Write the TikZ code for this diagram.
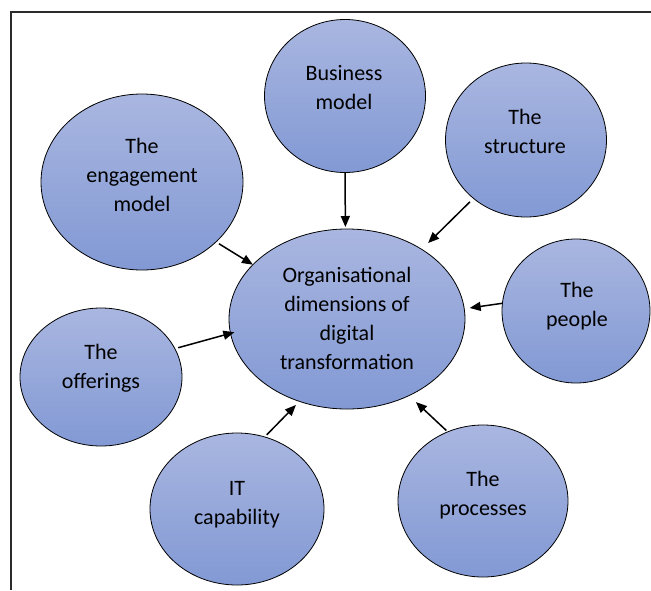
\documentclass[tikz,border=0pt]{standalone}
\usepackage{fontspec}
\setmainfont{Carlito}
\usetikzlibrary{shapes.geometric,arrows.meta}
\definecolor{bubbleTop}{HTML}{A9B6E0}
\definecolor{bubbleBot}{HTML}{8299D4}
\definecolor{frameLine}{HTML}{2B2B2B}
\begin{document}
\begin{tikzpicture}[x=1pt,y=-1pt,
  dim/.style={ellipse, draw=black, line width=0.8pt, top color=bubbleTop,
    bottom color=bubbleBot, inner sep=0pt, outer sep=0pt},
  lbl/.style={align=center, inner sep=0pt, text=black,
    font=\fontsize{22}{29}\selectfont},
  link/.style={-{Triangle[length=11pt,width=9pt]}, line width=1.5pt},
  frame/.style={draw=frameLine, line width=2.8pt}]
\useasboundingbox (0,0) rectangle (651,590);
\draw[frame] (11,590) -- (11,12) -- (651,12);

% bubbles
\node[dim, minimum width=161pt, minimum height=153pt] (bm)   at (345,96)  {};
\node[dim, minimum width=161pt, minimum height=154pt] (st)   at (526,140) {};
\node[dim, minimum width=202pt, minimum height=176pt] (eng)  at (142,182) {};
\node[dim, minimum width=236pt, minimum height=180pt] (ctr)  at (347,319) {};
\node[dim, minimum width=148pt, minimum height=144pt] (ppl)  at (576,311) {};
\node[dim, minimum width=162pt, minimum height=138pt] (off)  at (101,377) {};
\node[dim, minimum width=174pt, minimum height=152pt] (it)   at (237,509) {};
\node[dim, minimum width=170pt, minimum height=152pt] (proc) at (483,501) {};

% captions
\node[lbl] (bm-t)   at (344,89.5)  {\strut Business\\\strut model};
\node[lbl] (st-t)   at (525,133.5) {\strut The\\\strut structure};
\node[lbl] (eng-t)  at (142,177)   {\strut The\\\strut engagement\\\strut model};
\node[lbl] (ctr-t)  at (347,320)   {\strut Organisational\\\strut dimensions of\\\strut digital\\\strut transformation};
\node[lbl] (ppl-t)  at (577,306.5) {\strut The\\\strut people};
\node[lbl] (off-t)  at (101,368.5) {\strut The\\\strut offerings};
\node[lbl] (it-t)   at (237,504)   {\strut IT\\\strut capability};
\node[lbl] (proc-t) at (483,495.5) {\strut The\\\strut processes};

% arrows into the central bubble
\draw[link, shorten >=2pt] (bm.south) -- (ctr.91);
\draw[link, shorten <=5pt, shorten >=9pt] (st.228) -- (ctr.43);
\draw[link, shorten <=3.5pt] (eng.-39) -- (ctr.150);
\draw[link, shorten >=5.5pt] (ppl.174) -- (ctr.5);
\draw[link, shorten <=3.5pt, shorten >=-4pt] (off.21) -- (ctr.187);
\draw[link, shorten <=3pt, shorten >=5pt] (it.69) -- (ctr.240);
\draw[link, shorten <=2pt, shorten >=9.5pt] (proc.117) -- (ctr.-51);
\end{tikzpicture}
\end{document}
